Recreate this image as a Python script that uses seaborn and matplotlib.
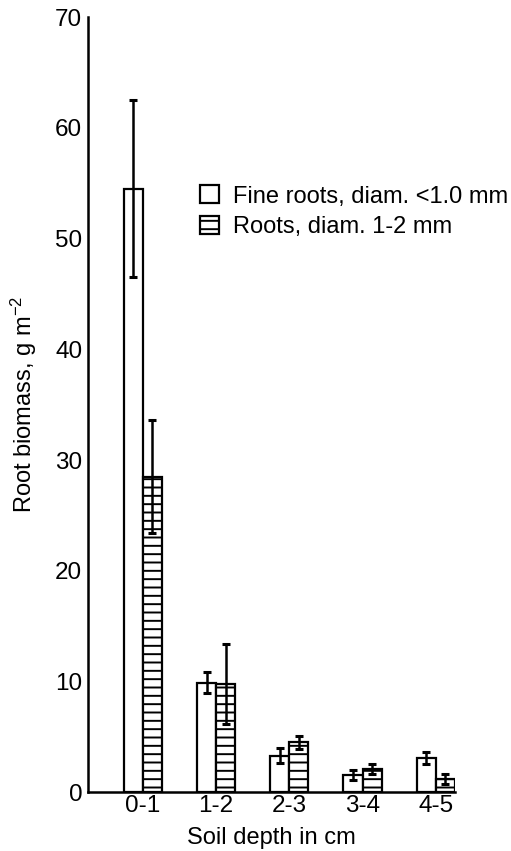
import numpy as np
import pandas as pd
import seaborn as sns
import matplotlib.pyplot as plt
from matplotlib.patches import Patch

# values (g m-2)
depths = ['0-1', '1-2', '2-3', '3-4', '4-5']
fine_mean = [54.5, 9.9, 3.3, 1.6, 3.1]
fine_err = [8.0, 0.95, 0.7, 0.45, 0.55]
coarse_mean = [28.5, 9.8, 4.5, 2.1, 1.2]
coarse_err = [5.1, 3.6, 0.6, 0.45, 0.45]
labels = ['Fine roots, diam. <1.0 mm', 'Roots, diam. 1-2 mm']

data = pd.DataFrame({
    'depth': depths * 2,
    'biomass': fine_mean + coarse_mean,
    'err': fine_err + coarse_err,
    'kind': [labels[0]] * 5 + [labels[1]] * 5,
})

sns.set_style('ticks')
plt.rcParams['font.family'] = ['Liberation Sans', 'DejaVu Sans']
plt.rcParams['mathtext.default'] = 'regular'
plt.rcParams['hatch.linewidth'] = 1.4
for k in ['text.color', 'axes.labelcolor', 'xtick.color', 'ytick.color', 'axes.edgecolor']:
    plt.rcParams[k] = 'black'

fig = plt.figure(figsize=(5.11, 8.51), dpi=100)
fig.subplots_adjust(left=0.172, right=0.890, bottom=0.069, top=0.980)
ax = fig.add_subplot(111)

sns.barplot(data=data, x='depth', y='biomass', hue='kind', order=depths,
            hue_order=labels, palette=['white', 'white'], errorbar=None,
            width=0.52, gap=0, edgecolor='black', linewidth=1.6,
            legend=False, ax=ax)

# hatch the 1-2 mm bars, then error bars through the bar centres
for bar in ax.containers[1]:
    bar.set_hatch('--')
for cont, errs in zip(ax.containers, [fine_err, coarse_err]):
    xs = [b.get_x() + b.get_width() / 2 for b in cont]
    ys = [b.get_height() for b in cont]
    ax.errorbar(xs, ys, yerr=errs, fmt='none', ecolor='black',
                elinewidth=1.8, capsize=3, capthick=2.2, zorder=5)

sns.despine(top=True, right=True)
ax.set_xlim(-0.75, 4.26)
ax.set_ylim(0, 70)
ax.set_yticks(list(range(0, 71, 10)))
ax.tick_params(axis='both', length=0, labelsize=17.5, colors='black')
ax.tick_params(axis='y', pad=4)
ax.tick_params(axis='x', pad=2)
for sp in ['left', 'bottom']:
    ax.spines[sp].set_linewidth(1.8)
    ax.spines[sp].set_color('black')

ax.set_xlabel('Soil depth in cm', fontsize=17, labelpad=7)
ax.set_ylabel('Root biomass, g m$^{-2}$', fontsize=17, labelpad=12)

handles = [Patch(facecolor='white', edgecolor='black', linewidth=1.6),
           Patch(facecolor='white', edgecolor='black', linewidth=1.6, hatch='--')]
ax.legend(handles, labels, loc='upper left', bbox_to_anchor=(0.28, 0.795),
          frameon=False, fontsize=17, handlelength=0.8, handleheight=0.8,
          handletextpad=0.6, labelspacing=0.35, borderaxespad=0)

plt.savefig('out.png', dpi=100)
